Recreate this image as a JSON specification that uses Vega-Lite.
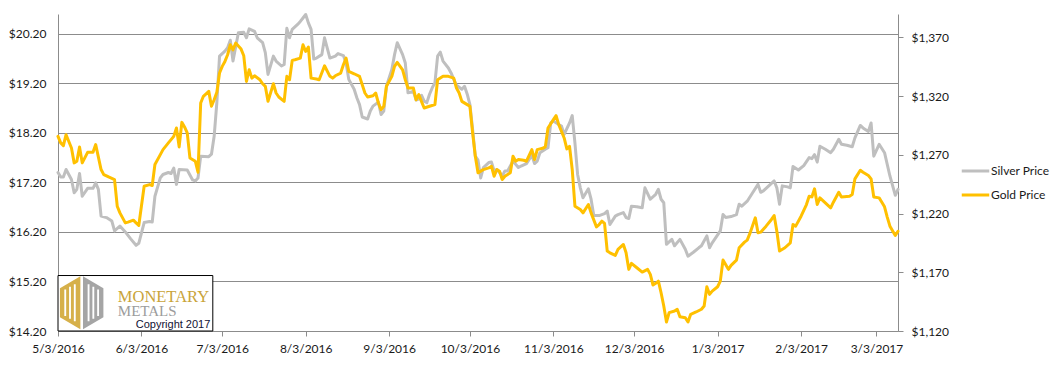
{
  "$schema": "https://vega.github.io/schema/vega-lite/v6.json",
  "width": 840,
  "height": 317,
  "autosize": "none",
  "padding": {"left": 58, "top": 14, "right": 166, "bottom": 34},
  "background": "white",
  "config": {"view": {"stroke": null}, "font": "Lato"},
  "datasets": {
    "silver": [
      {"date":"2016/05/03","price":17.40},{"date":"2016/05/04","price":17.31},{"date":"2016/05/05","price":17.31},{"date":"2016/05/06","price":17.46},{"date":"2016/05/08","price":17.26},{"date":"2016/05/09","price":16.99},{"date":"2016/05/10","price":17.06},{"date":"2016/05/11","price":17.38},{"date":"2016/05/12","price":16.92},{"date":"2016/05/14","price":17.08},{"date":"2016/05/16","price":17.08},{"date":"2016/05/17","price":17.19},{"date":"2016/05/18","price":17.06},{"date":"2016/05/19","price":16.52},{"date":"2016/05/21","price":16.49},{"date":"2016/05/23","price":16.42},{"date":"2016/05/24","price":16.22},{"date":"2016/05/26","price":16.32},{"date":"2016/05/28","price":16.20},{"date":"2016/05/30","price":16.06},
      {"date":"2016/06/01","price":15.93},{"date":"2016/06/02","price":15.97},{"date":"2016/06/04","price":16.39},{"date":"2016/06/06","price":16.41},{"date":"2016/06/07","price":16.40},{"date":"2016/06/08","price":16.92},{"date":"2016/06/10","price":17.29},{"date":"2016/06/11","price":17.36},{"date":"2016/06/13","price":17.40},{"date":"2016/06/14","price":17.38},{"date":"2016/06/15","price":17.49},{"date":"2016/06/16","price":17.16},{"date":"2016/06/17","price":17.46},{"date":"2016/06/20","price":17.45},{"date":"2016/06/22","price":17.25},{"date":"2016/06/23","price":17.23},{"date":"2016/06/24","price":17.29},{"date":"2016/06/25","price":17.73},{"date":"2016/06/28","price":17.72},{"date":"2016/06/29","price":17.77},{"date":"2016/06/30","price":18.13},
      {"date":"2016/07/01","price":18.81},{"date":"2016/07/02","price":19.75},{"date":"2016/07/04","price":19.85},{"date":"2016/07/05","price":19.92},{"date":"2016/07/06","price":20.07},{"date":"2016/07/07","price":19.65},{"date":"2016/07/09","price":20.22},{"date":"2016/07/11","price":20.23},{"date":"2016/07/12","price":20.12},{"date":"2016/07/13","price":20.30},{"date":"2016/07/15","price":20.25},{"date":"2016/07/16","price":20.12},{"date":"2016/07/18","price":20.02},{"date":"2016/07/19","price":19.82},{"date":"2016/07/20","price":19.38},{"date":"2016/07/22","price":19.75},{"date":"2016/07/23","price":19.65},{"date":"2016/07/25","price":19.55},{"date":"2016/07/26","price":19.58},{"date":"2016/07/27","price":20.31},{"date":"2016/07/28","price":20.12},{"date":"2016/07/29","price":20.29},{"date":"2016/07/31","price":20.39},
      {"date":"2016/08/01","price":20.45},{"date":"2016/08/02","price":20.52},{"date":"2016/08/03","price":20.59},{"date":"2016/08/04","price":20.42},{"date":"2016/08/05","price":20.29},{"date":"2016/08/06","price":19.69},{"date":"2016/08/07","price":19.71},{"date":"2016/08/09","price":19.78},{"date":"2016/08/10","price":20.12},{"date":"2016/08/12","price":19.71},{"date":"2016/08/14","price":19.75},{"date":"2016/08/15","price":19.80},{"date":"2016/08/17","price":19.76},{"date":"2016/08/18","price":19.61},{"date":"2016/08/19","price":19.28},{"date":"2016/08/21","price":19.08},{"date":"2016/08/22","price":18.91},{"date":"2016/08/23","price":18.77},{"date":"2016/08/24","price":18.52},{"date":"2016/08/26","price":18.48},{"date":"2016/08/27","price":18.64},{"date":"2016/08/28","price":18.74},{"date":"2016/08/30","price":18.82},{"date":"2016/08/31","price":18.57},
      {"date":"2016/09/01","price":18.64},{"date":"2016/09/02","price":19.14},{"date":"2016/09/04","price":19.48},{"date":"2016/09/05","price":19.78},{"date":"2016/09/06","price":20.02},{"date":"2016/09/08","price":19.78},{"date":"2016/09/09","price":19.61},{"date":"2016/09/10","price":19.01},{"date":"2016/09/11","price":19.02},{"date":"2016/09/12","price":19.04},{"date":"2016/09/13","price":18.86},{"date":"2016/09/14","price":18.88},{"date":"2016/09/15","price":18.96},{"date":"2016/09/16","price":18.84},{"date":"2016/09/17","price":18.81},{"date":"2016/09/18","price":18.98},{"date":"2016/09/19","price":19.11},{"date":"2016/09/20","price":19.21},{"date":"2016/09/21","price":19.75},{"date":"2016/09/22","price":19.83},{"date":"2016/09/23","price":19.65},{"date":"2016/09/25","price":19.51},{"date":"2016/09/26","price":19.41},{"date":"2016/09/27","price":19.28},{"date":"2016/09/28","price":19.16},{"date":"2016/09/30","price":19.08},
      {"date":"2016/10/01","price":19.14},{"date":"2016/10/02","price":18.98},{"date":"2016/10/03","price":18.77},{"date":"2016/10/04","price":18.27},{"date":"2016/10/05","price":17.73},{"date":"2016/10/06","price":17.65},{"date":"2016/10/07","price":17.29},{"date":"2016/10/08","price":17.50},{"date":"2016/10/10","price":17.60},{"date":"2016/10/11","price":17.61},{"date":"2016/10/12","price":17.43},{"date":"2016/10/13","price":17.46},{"date":"2016/10/14","price":17.40},{"date":"2016/10/15","price":17.33},{"date":"2016/10/16","price":17.43},{"date":"2016/10/17","price":17.43},{"date":"2016/10/18","price":17.53},{"date":"2016/10/19","price":17.63},{"date":"2016/10/21","price":17.50},{"date":"2016/10/22","price":17.53},{"date":"2016/10/24","price":17.58},{"date":"2016/10/26","price":17.75},{"date":"2016/10/27","price":17.58},{"date":"2016/10/28","price":17.63},{"date":"2016/10/29","price":17.80},{"date":"2016/10/31","price":17.87},
      {"date":"2016/11/01","price":17.90},{"date":"2016/11/02","price":18.40},{"date":"2016/11/03","price":18.44},{"date":"2016/11/05","price":18.37},{"date":"2016/11/06","price":18.34},{"date":"2016/11/07","price":18.17},{"date":"2016/11/09","price":18.40},{"date":"2016/11/10","price":18.55},{"date":"2016/11/11","price":18.00},{"date":"2016/11/12","price":17.36},{"date":"2016/11/13","price":17.09},{"date":"2016/11/14","price":16.89},{"date":"2016/11/16","price":17.07},{"date":"2016/11/17","price":16.86},{"date":"2016/11/18","price":16.53},{"date":"2016/11/20","price":16.53},{"date":"2016/11/22","price":16.57},{"date":"2016/11/23","price":16.62},{"date":"2016/11/24","price":16.35},{"date":"2016/11/26","price":16.52},{"date":"2016/11/27","price":16.55},{"date":"2016/11/29","price":16.59},{"date":"2016/11/30","price":16.49},
      {"date":"2016/12/01","price":16.47},{"date":"2016/12/02","price":16.72},{"date":"2016/12/04","price":16.71},{"date":"2016/12/06","price":16.69},{"date":"2016/12/07","price":17.09},{"date":"2016/12/09","price":16.86},{"date":"2016/12/11","price":16.96},{"date":"2016/12/12","price":17.06},{"date":"2016/12/13","price":16.86},{"date":"2016/12/14","price":16.79},{"date":"2016/12/15","price":15.95},{"date":"2016/12/17","price":16.05},{"date":"2016/12/18","price":15.92},{"date":"2016/12/20","price":16.05},{"date":"2016/12/22","price":15.85},{"date":"2016/12/23","price":15.71},{"date":"2016/12/25","price":15.79},{"date":"2016/12/27","price":15.88},{"date":"2016/12/28","price":15.92},{"date":"2016/12/30","price":16.12},{"date":"2016/12/31","price":15.88},
      {"date":"2017/01/01","price":15.98},{"date":"2017/01/04","price":16.22},{"date":"2017/01/05","price":16.55},{"date":"2017/01/06","price":16.49},{"date":"2017/01/08","price":16.51},{"date":"2017/01/10","price":16.55},{"date":"2017/01/11","price":16.76},{"date":"2017/01/12","price":16.72},{"date":"2017/01/14","price":16.82},{"date":"2017/01/16","price":16.99},{"date":"2017/01/18","price":17.16},{"date":"2017/01/19","price":17.00},{"date":"2017/01/20","price":17.03},{"date":"2017/01/22","price":17.13},{"date":"2017/01/24","price":17.23},{"date":"2017/01/25","price":17.09},{"date":"2017/01/26","price":16.76},{"date":"2017/01/27","price":17.13},{"date":"2017/01/29","price":17.11},{"date":"2017/01/30","price":17.09},{"date":"2017/01/31","price":17.52},
      {"date":"2017/02/02","price":17.45},{"date":"2017/02/04","price":17.54},{"date":"2017/02/06","price":17.70},{"date":"2017/02/07","price":17.68},{"date":"2017/02/08","price":17.76},{"date":"2017/02/09","price":17.61},{"date":"2017/02/10","price":17.93},{"date":"2017/02/12","price":17.87},{"date":"2017/02/14","price":17.80},{"date":"2017/02/15","price":17.87},{"date":"2017/02/17","price":18.07},{"date":"2017/02/18","price":17.97},{"date":"2017/02/20","price":17.95},{"date":"2017/02/22","price":17.92},{"date":"2017/02/23","price":18.10},{"date":"2017/02/25","price":18.35},{"date":"2017/02/26","price":18.30},{"date":"2017/02/28","price":18.23},
      {"date":"2017/03/01","price":18.40},{"date":"2017/03/02","price":17.73},{"date":"2017/03/04","price":17.97},{"date":"2017/03/06","price":17.80},{"date":"2017/03/08","price":17.33},{"date":"2017/03/10","price":16.94},{"date":"2017/03/11","price":17.06}
    ],
    "gold": [
      {"date":"2016/05/03","price":1285.8},{"date":"2016/05/04","price":1280.2},{"date":"2016/05/05","price":1277.9},{"date":"2016/05/06","price":1287.2},{"date":"2016/05/08","price":1275.9},{"date":"2016/05/09","price":1263.2},{"date":"2016/05/10","price":1264.6},{"date":"2016/05/11","price":1276.8},{"date":"2016/05/12","price":1263.2},{"date":"2016/05/14","price":1272.2},{"date":"2016/05/16","price":1272.2},{"date":"2016/05/17","price":1278.8},{"date":"2016/05/19","price":1257.5},{"date":"2016/05/20","price":1253.2},{"date":"2016/05/22","price":1251.0},{"date":"2016/05/24","price":1249.0},{"date":"2016/05/25","price":1226.3},{"date":"2016/05/26","price":1220.6},{"date":"2016/05/28","price":1212.1},{"date":"2016/05/29","price":1212.7},{"date":"2016/05/31","price":1214.4},
      {"date":"2016/06/01","price":1212.1},{"date":"2016/06/02","price":1209.9},{"date":"2016/06/04","price":1243.3},{"date":"2016/06/06","price":1244.7},{"date":"2016/06/07","price":1243.9},{"date":"2016/06/08","price":1261.8},{"date":"2016/06/10","price":1270.2},{"date":"2016/06/11","price":1274.5},{"date":"2016/06/13","price":1280.2},{"date":"2016/06/14","price":1283.0},{"date":"2016/06/15","price":1285.8},{"date":"2016/06/16","price":1292.9},{"date":"2016/06/17","price":1276.8},{"date":"2016/06/18","price":1297.7},{"date":"2016/06/19","price":1293.8},{"date":"2016/06/20","price":1288.7},{"date":"2016/06/21","price":1267.4},{"date":"2016/06/23","price":1264.6},{"date":"2016/06/24","price":1255.2},{"date":"2016/06/25","price":1314.2},{"date":"2016/06/26","price":1319.9},{"date":"2016/06/28","price":1324.1},{"date":"2016/06/29","price":1311.4},{"date":"2016/06/30","price":1317.0},
      {"date":"2016/07/01","price":1323.3},{"date":"2016/07/02","price":1339.7},{"date":"2016/07/03","price":1345.4},{"date":"2016/07/04","price":1349.6},{"date":"2016/07/05","price":1355.3},{"date":"2016/07/06","price":1363.8},{"date":"2016/07/07","price":1359.5},{"date":"2016/07/08","price":1365.2},{"date":"2016/07/10","price":1360.1},{"date":"2016/07/11","price":1354.4},{"date":"2016/07/12","price":1332.6},{"date":"2016/07/13","price":1342.5},{"date":"2016/07/14","price":1335.4},{"date":"2016/07/15","price":1337.4},{"date":"2016/07/17","price":1334.0},{"date":"2016/07/18","price":1330.6},{"date":"2016/07/19","price":1328.4},{"date":"2016/07/20","price":1315.6},{"date":"2016/07/22","price":1330.6},{"date":"2016/07/23","price":1322.7},{"date":"2016/07/24","price":1319.3},{"date":"2016/07/26","price":1315.6},{"date":"2016/07/27","price":1336.9},{"date":"2016/07/28","price":1334.0},{"date":"2016/07/29","price":1350.5},{"date":"2016/07/30","price":1351.0},
      {"date":"2016/08/01","price":1352.4},{"date":"2016/08/02","price":1363.8},{"date":"2016/08/03","price":1358.1},{"date":"2016/08/04","price":1361.8},{"date":"2016/08/05","price":1335.4},{"date":"2016/08/07","price":1334.6},{"date":"2016/08/08","price":1334.0},{"date":"2016/08/10","price":1345.9},{"date":"2016/08/12","price":1336.9},{"date":"2016/08/13","price":1335.4},{"date":"2016/08/14","price":1337.4},{"date":"2016/08/16","price":1339.7},{"date":"2016/08/17","price":1346.8},{"date":"2016/08/18","price":1352.4},{"date":"2016/08/19","price":1341.1},{"date":"2016/08/21","price":1339.1},{"date":"2016/08/23","price":1336.9},{"date":"2016/08/25","price":1322.7},{"date":"2016/08/26","price":1319.3},{"date":"2016/08/28","price":1320.4},{"date":"2016/08/29","price":1322.7},{"date":"2016/08/30","price":1314.2},{"date":"2016/08/31","price":1308.5},
      {"date":"2016/09/01","price":1311.4},{"date":"2016/09/02","price":1328.4},{"date":"2016/09/04","price":1336.9},{"date":"2016/09/05","price":1345.4},{"date":"2016/09/06","price":1348.8},{"date":"2016/09/08","price":1342.5},{"date":"2016/09/09","price":1334.0},{"date":"2016/09/10","price":1326.9},{"date":"2016/09/12","price":1326.9},{"date":"2016/09/13","price":1317.0},{"date":"2016/09/14","price":1321.3},{"date":"2016/09/15","price":1315.6},{"date":"2016/09/16","price":1309.9},{"date":"2016/09/18","price":1311.4},{"date":"2016/09/20","price":1312.8},{"date":"2016/09/21","price":1334.0},{"date":"2016/09/23","price":1336.9},{"date":"2016/09/25","price":1336.9},{"date":"2016/09/27","price":1335.4},{"date":"2016/09/28","price":1326.9},{"date":"2016/09/29","price":1322.7},{"date":"2016/09/30","price":1315.6},
      {"date":"2016/10/02","price":1312.8},{"date":"2016/10/03","price":1311.4},{"date":"2016/10/04","price":1288.7},{"date":"2016/10/05","price":1268.8},{"date":"2016/10/06","price":1254.7},{"date":"2016/10/08","price":1257.5},{"date":"2016/10/10","price":1258.9},{"date":"2016/10/11","price":1260.3},{"date":"2016/10/12","price":1251.8},{"date":"2016/10/13","price":1257.5},{"date":"2016/10/14","price":1256.1},{"date":"2016/10/15","price":1249.0},{"date":"2016/10/16","price":1251.8},{"date":"2016/10/18","price":1254.7},{"date":"2016/10/19","price":1268.8},{"date":"2016/10/20","price":1264.6},{"date":"2016/10/21","price":1266.0},{"date":"2016/10/23","price":1265.4},{"date":"2016/10/24","price":1264.6},{"date":"2016/10/26","price":1274.5},{"date":"2016/10/27","price":1266.0},{"date":"2016/10/28","price":1274.5},{"date":"2016/10/30","price":1275.6},{"date":"2016/10/31","price":1276.8},
      {"date":"2016/11/01","price":1292.9},{"date":"2016/11/03","price":1300.0},{"date":"2016/11/04","price":1303.4},{"date":"2016/11/05","price":1295.8},{"date":"2016/11/07","price":1284.4},{"date":"2016/11/08","price":1275.1},{"date":"2016/11/09","price":1277.3},{"date":"2016/11/10","price":1257.5},{"date":"2016/11/11","price":1226.3},{"date":"2016/11/13","price":1223.5},{"date":"2016/11/14","price":1220.6},{"date":"2016/11/16","price":1227.7},{"date":"2016/11/17","price":1220.6},{"date":"2016/11/19","price":1208.7},{"date":"2016/11/20","price":1210.7},{"date":"2016/11/21","price":1213.6},{"date":"2016/11/22","price":1211.6},{"date":"2016/11/23","price":1188.1},{"date":"2016/11/24","price":1186.6},{"date":"2016/11/26","price":1184.4},{"date":"2016/11/27","price":1189.5},{"date":"2016/11/29","price":1193.7},{"date":"2016/11/30","price":1186.6},
      {"date":"2016/12/01","price":1172.5},{"date":"2016/12/02","price":1177.6},{"date":"2016/12/04","price":1173.9},{"date":"2016/12/06","price":1170.2},{"date":"2016/12/08","price":1172.5},{"date":"2016/12/09","price":1168.2},{"date":"2016/12/10","price":1159.1},{"date":"2016/12/11","price":1160.6},{"date":"2016/12/12","price":1162.5},{"date":"2016/12/13","price":1152.6},{"date":"2016/12/14","price":1141.3},{"date":"2016/12/15","price":1127.7},{"date":"2016/12/16","price":1135.6},{"date":"2016/12/18","price":1137.0},{"date":"2016/12/19","price":1138.5},{"date":"2016/12/20","price":1132.2},{"date":"2016/12/22","price":1131.3},{"date":"2016/12/23","price":1127.7},{"date":"2016/12/24","price":1134.2},{"date":"2016/12/26","price":1136.2},{"date":"2016/12/28","price":1138.5},{"date":"2016/12/29","price":1141.3},{"date":"2016/12/30","price":1157.7},{"date":"2016/12/31","price":1151.2},
      {"date":"2017/01/01","price":1154.0},{"date":"2017/01/03","price":1157.7},{"date":"2017/01/04","price":1162.5},{"date":"2017/01/05","price":1180.4},{"date":"2017/01/07","price":1172.5},{"date":"2017/01/08","price":1175.9},{"date":"2017/01/10","price":1180.4},{"date":"2017/01/11","price":1190.9},{"date":"2017/01/13","price":1195.7},{"date":"2017/01/14","price":1197.4},{"date":"2017/01/15","price":1203.1},{"date":"2017/01/17","price":1216.4},{"date":"2017/01/18","price":1203.6},{"date":"2017/01/19","price":1204.2},{"date":"2017/01/21","price":1209.3},{"date":"2017/01/23","price":1215.0},{"date":"2017/01/24","price":1218.4},{"date":"2017/01/25","price":1205.0},{"date":"2017/01/26","price":1188.1},{"date":"2017/01/28","price":1190.9},{"date":"2017/01/30","price":1195.1},{"date":"2017/01/31","price":1210.7},
      {"date":"2017/02/01","price":1209.3},{"date":"2017/02/03","price":1217.8},{"date":"2017/02/05","price":1227.7},{"date":"2017/02/06","price":1234.8},{"date":"2017/02/07","price":1234.2},{"date":"2017/02/08","price":1241.1},{"date":"2017/02/09","price":1227.7},{"date":"2017/02/10","price":1233.4},{"date":"2017/02/12","price":1229.1},{"date":"2017/02/14","price":1224.9},{"date":"2017/02/15","price":1229.7},{"date":"2017/02/17","price":1238.2},{"date":"2017/02/18","price":1234.2},{"date":"2017/02/21","price":1234.8},{"date":"2017/02/22","price":1236.2},{"date":"2017/02/23","price":1249.6},{"date":"2017/02/25","price":1256.9},{"date":"2017/02/26","price":1255.2},{"date":"2017/02/28","price":1252.4},
      {"date":"2017/03/01","price":1249.6},{"date":"2017/03/02","price":1234.2},{"date":"2017/03/04","price":1233.4},{"date":"2017/03/05","price":1229.7},{"date":"2017/03/06","price":1225.8},{"date":"2017/03/07","price":1217.0},{"date":"2017/03/08","price":1209.3},{"date":"2017/03/10","price":1201.4},{"date":"2017/03/11","price":1205.0}
    ]
  },
  "layer": [
    {
      "layer": [
        {
          "data": {"name": "silver"},
          "mark": {"type": "line", "strokeWidth": 3, "strokeJoin": "round", "strokeCap": "round"},
          "encoding": {
            "x": {
              "field": "date", "type": "temporal",
              "scale": {"domain": [{"year": 2016, "month": 5, "date": 3}, {"year": 2017, "month": 3, "date": 11}]},
              "axis": {
                "values": [
                  {"year": 2016, "month": 5, "date": 3}, {"year": 2016, "month": 6, "date": 3}, {"year": 2016, "month": 7, "date": 3},
                  {"year": 2016, "month": 8, "date": 3}, {"year": 2016, "month": 9, "date": 3}, {"year": 2016, "month": 10, "date": 3},
                  {"year": 2016, "month": 11, "date": 3}, {"year": 2016, "month": 12, "date": 3}, {"year": 2017, "month": 1, "date": 3},
                  {"year": 2017, "month": 2, "date": 3}, {"year": 2017, "month": 3, "date": 3}
                ],
                "format": "%-m/%-d/%Y", "title": null, "grid": false,
                "domainColor": "#8c8c8c", "tickColor": "#8c8c8c", "tickSize": 5,
                "labelPadding": 7, "labelFont": "Lato", "labelFontSize": 12, "labelColor": "#1a1a1a",
                "labelOverlap": false, "labelFlush": false
              }
            },
            "y": {
              "field": "price", "type": "quantitative",
              "scale": {"domain": [14.2, 20.6], "nice": false, "zero": false},
              "axis": {
                "orient": "left", "values": [14.2, 15.2, 16.2, 17.2, 18.2, 19.2, 20.2],
                "format": "$.2f", "title": null, "grid": true, "gridColor": "#8c8c8c", "gridWidth": 1,
                "domainColor": "#8c8c8c", "ticks": false, "tickSize": 0, "labelPadding": 12,
                "labelFont": "Lato", "labelFontSize": 12, "labelColor": "#1a1a1a"
              }
            },
            "color": {
              "datum": "Silver Price", "type": "nominal",
              "scale": {"domain": ["Silver Price", "Gold Price"], "range": ["#BFBFBF", "#FFC000"]},
              "legend": {
                "title": null, "orient": "none", "legendX": 905, "legendY": 144.5,
                "symbolType": "M-1.25,0H1.25", "symbolSize": 484, "symbolStrokeWidth": 3,
                "rowPadding": 5, "labelOffset": 3, "padding": 0,
                "labelFont": "Lato", "labelFontSize": 12, "labelColor": "#1a1a1a"
              }
            }
          }
        },
        {
          "data": {"values": [{}]},
          "mark": {"type": "rect", "fill": "white", "stroke": "#000000", "strokeWidth": 1},
          "encoding": {
            "x": {"datum": {"year": 2016, "month": 5, "date": 3}, "type": "temporal"},
            "x2": {"datum": {"year": 2016, "month": 6, "date": 29, "hours": 12}},
            "y": {"datum": 14.2, "type": "quantitative"},
            "y2": {"datum": 15.32}
          }
        },
        {
          "data": {"values": [{}]},
          "mark": {"type": "point", "shape": "M-0.05,-1L-0.82,-0.55L-0.82,0.55L-0.05,1Z", "size": 2809, "filled": true, "fill": "#D6B04A", "strokeWidth": 0, "opacity": 1},
          "encoding": {
            "x": {"datum": {"year": 2016, "month": 5, "date": 11, "hours": 19}, "type": "temporal"},
            "y": {"datum": 14.77, "type": "quantitative"}
          }
        },
        {
          "data": {"values": [{}]},
          "mark": {"type": "point", "shape": "M0.05,-1L0.82,-0.55L0.82,0.55L0.05,1Z", "size": 2809, "filled": true, "fill": "#A5A5A5", "strokeWidth": 0, "opacity": 1},
          "encoding": {
            "x": {"datum": {"year": 2016, "month": 5, "date": 11, "hours": 19}, "type": "temporal"},
            "y": {"datum": 14.77, "type": "quantitative"}
          }
        },
        {
          "data": {"values": [{}]},
          "mark": {"type": "point", "shape": "M-0.655,-0.5H-0.585V0.5H-0.655Z M-0.475,-0.6H-0.405V0.6H-0.475Z M-0.295,-0.7H-0.225V0.7H-0.295Z M0.225,-0.7H0.295V0.7H0.225Z M0.405,-0.6H0.475V0.6H0.405Z M0.585,-0.5H0.655V0.5H0.585Z", "size": 2809, "filled": true, "fill": "#FFFFFF", "strokeWidth": 0, "opacity": 1},
          "encoding": {
            "x": {"datum": {"year": 2016, "month": 5, "date": 11, "hours": 19}, "type": "temporal"},
            "y": {"datum": 14.77, "type": "quantitative"}
          }
        },
        {
          "data": {"values": [{}]},
          "mark": {"type": "text", "text": "MONETARY", "align": "left", "baseline": "alphabetic", "font": "Liberation Serif", "fontSize": 16.5, "fill": "#C9A43A"},
          "encoding": {
            "x": {"datum": {"year": 2016, "month": 5, "date": 25, "hours": 5}, "type": "temporal"},
            "y": {"datum": 14.793, "type": "quantitative"}
          }
        },
        {
          "data": {"values": [{}]},
          "mark": {"type": "text", "text": "METALS", "align": "left", "baseline": "alphabetic", "font": "Liberation Serif", "fontSize": 15, "fill": "#9C9C9C"},
          "encoding": {
            "x": {"datum": {"year": 2016, "month": 5, "date": 25, "hours": 5}, "type": "temporal"},
            "y": {"datum": 14.51, "type": "quantitative"}
          }
        },
        {
          "data": {"values": [{}]},
          "mark": {"type": "text", "text": "Copyright 2017", "align": "left", "baseline": "alphabetic", "font": "Liberation Sans", "fontSize": 11, "fill": "#111133"},
          "encoding": {
            "x": {"datum": {"year": 2016, "month": 5, "date": 31, "hours": 21}, "type": "temporal"},
            "y": {"datum": 14.265, "type": "quantitative"}
          }
        }
      ]
    },
    {
      "data": {"name": "gold"},
      "mark": {"type": "line", "strokeWidth": 3, "strokeJoin": "round", "strokeCap": "round"},
      "encoding": {
        "x": {"field": "date", "type": "temporal"},
        "y": {
          "field": "price", "type": "quantitative",
          "scale": {"domain": [1120, 1390], "nice": false, "zero": false},
          "axis": {
            "orient": "right", "values": [1120, 1170, 1220, 1270, 1320, 1370],
            "format": "$,.0f", "title": null, "grid": false,
            "domainColor": "#8c8c8c", "tickColor": "#8c8c8c", "tickSize": 5, "labelPadding": 8,
            "labelFont": "Lato", "labelFontSize": 12, "labelColor": "#1a1a1a"
          }
        },
        "color": {"datum": "Gold Price", "type": "nominal"}
      }
    }
  ],
  "resolve": {"scale": {"y": "independent"}, "axis": {"y": "independent"}}
}
